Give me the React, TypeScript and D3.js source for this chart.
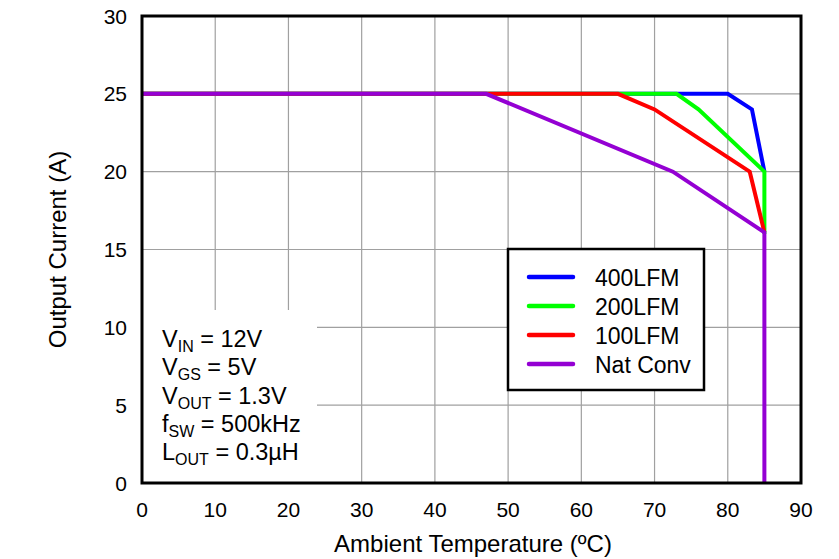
import React from "react";
import * as d3 from "d3";

const xTicks = [0, 10, 20, 30, 40, 50, 60, 70, 80, 90];
const yTicks = [0, 5, 10, 15, 20, 25, 30];

const seriesNames = ["400LFM", "200LFM", "100LFM", "Nat Conv"];
const seriesColors = ["#0000FF", "#00FF00", "#FF0000", "#9400D3"];

const temps400 = [0, 80, 83.3, 85];
const current400 = [25, 25, 24, 20];
const temps200 = [0, 73, 76, 85, 85];
const current200 = [25, 25, 24, 20, 16];
const temps100 = [0, 65, 70, 83, 85];
const current100 = [25, 25, 24, 20, 16.1];
const tempsNat = [0, 47, 72.5, 85, 85];
const currentNat = [25, 25, 20, 16.1, 0];

const seriesTemps = [temps400, temps200, temps100, tempsNat];
const seriesCurrents = [current400, current200, current100, currentNat];

const annotation = [
  { main: "V", sub: "IN", rest: " = 12V" },
  { main: "V", sub: "GS", rest: " = 5V" },
  { main: "V", sub: "OUT", rest: " = 1.3V" },
  { main: "f", sub: "SW", rest: " = 500kHz" },
  { main: "L", sub: "OUT", rest: " = 0.3µH" },
];

const W = 839;
const H = 559;
const L = 142;
const R = 801;
const T = 16;
const B = 483;
const FONT = "'Liberation Sans', Arial, sans-serif";

export default function App() {
  const x = d3.scaleLinear().domain([0, 90]).range([L, R]);
  const y = d3.scaleLinear().domain([0, 30]).range([B, T]);
  const line = d3
    .line<[number, number]>()
    .x((d) => x(d[0]))
    .y((d) => y(d[1]));

  return (
    <svg
      width={W}
      height={H}
      style={{ position: "absolute", left: 0, top: 0, background: "#fff" }}
      fontFamily={FONT}
    >
      <rect x={0} y={0} width={W} height={H} fill="#fff" />
      {/* grid */}
      {xTicks.slice(1, -1).map((t) => (
        <line key={"gx" + t} x1={x(t)} x2={x(t)} y1={T} y2={B} stroke="#A0A0A0" strokeWidth={1.2} />
      ))}
      {yTicks.slice(1, -1).map((t) => (
        <line key={"gy" + t} x1={L} x2={R} y1={y(t)} y2={y(t)} stroke="#A0A0A0" strokeWidth={1.2} />
      ))}
      {/* annotation box background */}
      <rect x={L} y={310} width={317 - L} height={B - 310} fill="#fff" />
      {/* series */}
      {seriesTemps.map((ts, i) => (
        <path
          key={"s" + i}
          d={line(ts.map((t, j) => [t, seriesCurrents[i][j]]) as [number, number][]) || ""}
          fill="none"
          stroke={seriesColors[i]}
          strokeWidth={4}
          strokeLinejoin="miter"
        />
      ))}
      {/* frame */}
      <rect x={L} y={T} width={R - L} height={B - T} fill="none" stroke="#000" strokeWidth={3} />
      {/* tick labels */}
      {xTicks.map((t) => (
        <text key={"xt" + t} x={x(t)} y={517} textAnchor="middle" fontSize={21} fill="#000">
          {t}
        </text>
      ))}
      {yTicks.map((t) => (
        <text key={"yt" + t} x={127} y={y(t) + 7.5} textAnchor="end" fontSize={21} fill="#000">
          {t}
        </text>
      ))}
      {/* axis titles */}
      <text x={473} y={552} textAnchor="middle" fontSize={24} fill="#000">
        Ambient Temperature (ºC)
      </text>
      <text
        transform={`translate(66, ${(T + B) / 2}) rotate(-90)`}
        textAnchor="middle"
        fontSize={24}
        fill="#000"
      >
        Output Current (A)
      </text>
      {/* legend */}
      <rect x={508} y={249} width={196} height={141} fill="#fff" stroke="#000" strokeWidth={2.5} />
      {seriesNames.map((n, i) => {
        const cy = 277 + i * 29;
        return (
          <g key={"lg" + i}>
            <line x1={529} x2={573} y1={cy} y2={cy} stroke={seriesColors[i]} strokeWidth={4.5} strokeLinecap="round" />
            <text x={595} y={cy + 9} fontSize={23} fill="#000">
              {n}
            </text>
          </g>
        );
      })}
      {/* annotation */}
      {annotation.map((a, i) => (
        <text key={"an" + i} x={162} y={347 + i * 28.3} fontSize={23.5} fill="#000">
          {a.main}
          <tspan fontSize={16} dy={5}>
            {a.sub}
          </tspan>
          <tspan dy={-5}>{a.rest}</tspan>
        </text>
      ))}
    </svg>
  );
}
